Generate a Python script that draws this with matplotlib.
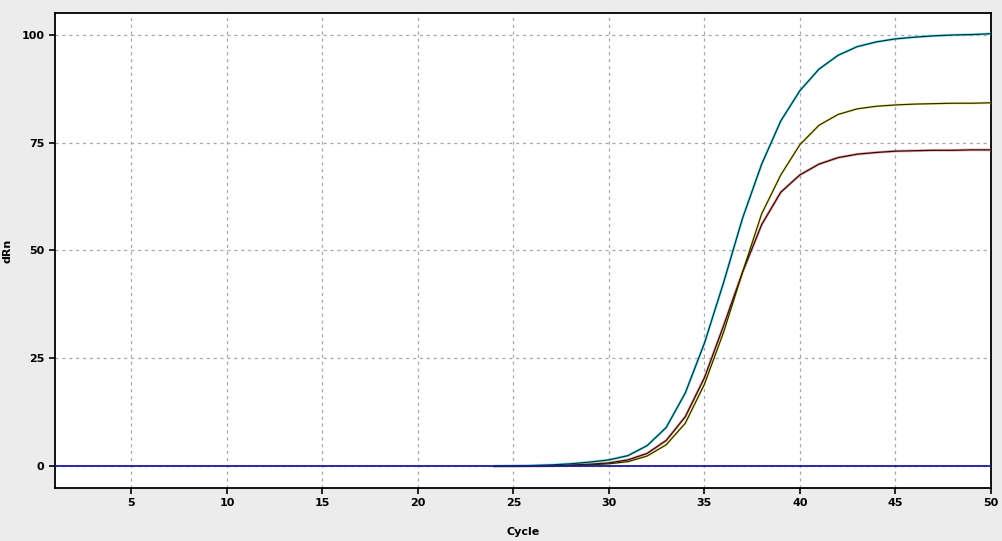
import numpy as np
import matplotlib.pyplot as plt

# amplification curves (dRn per cycle)
cycles = list(range(24, 51))
cyan_rn = [0.05, 0.1, 0.2, 0.35, 0.6, 1.0, 1.5, 2.5, 4.8, 9.0, 17.0, 28.5, 42.5, 57.5, 70.0, 80.0,
           87.0, 92.0, 95.2, 97.2, 98.3, 99.0, 99.4, 99.7, 99.9, 100.0, 100.2]
yellow_rn = [0.0, 0.02, 0.05, 0.1, 0.2, 0.35, 0.6, 1.1, 2.4, 5.0, 10.0, 19.0, 31.0, 45.0, 58.5, 67.5,
             74.5, 79.0, 81.5, 82.8, 83.4, 83.7, 83.9, 84.0, 84.1, 84.1, 84.2]
red_rn = [0.0, 0.03, 0.08, 0.15, 0.3, 0.5, 0.8, 1.5, 3.0, 6.0, 11.5, 20.5, 32.5, 45.0, 56.0, 63.5,
          67.5, 70.0, 71.5, 72.3, 72.7, 73.0, 73.1, 73.2, 73.2, 73.3, 73.3]
threshold = 0.0

x_ticks = [5, 10, 15, 20, 25, 30, 35, 40, 45, 50]
y_ticks = [0, 25, 50, 75, 100]

fig = plt.figure(figsize=(10.02, 5.41), dpi=100)
fig.patch.set_facecolor('#ececec')
ax = fig.add_axes([0.0549, 0.098, 0.934, 0.878])
ax.set_facecolor('white')

# coloured halo under a thin dark line
for vals, halo, core in [(red_rn, '#e87878', '#2a0a0a'),
                         (yellow_rn, '#f4ea60', '#2a2a00'),
                         (cyan_rn, '#40e0f0', '#00303a')]:
    ax.plot(cycles, vals, color=halo, lw=2.0, alpha=0.6, zorder=3)
    ax.plot(cycles, vals, color=core, lw=0.9, zorder=4)

ax.axhline(threshold, color='#1a1aa0', lw=1.3, zorder=5)

ax.set_xlim(1, 50)
ax.set_ylim(-5, 105)
ax.set_xticks(x_ticks)
ax.set_yticks(y_ticks)
ax.grid(True, color='#a8a8a8', linestyle=(0, (2.5, 3)), lw=0.9)
ax.tick_params(direction='out', length=4, width=1.2, labelsize=8)
for lab in ax.get_xticklabels() + ax.get_yticklabels():
    lab.set_fontweight('bold')
for s in ax.spines.values():
    s.set_linewidth(1.3)

ax.set_xlabel('Cycle', fontsize=8, fontweight='bold')
ax.set_ylabel('dRn', fontsize=8, fontweight='bold')
ax.xaxis.set_label_coords(0.5, -0.082)
ax.yaxis.set_label_coords(-0.045, 0.5)

fig.savefig('out.png', dpi=100, facecolor=fig.get_facecolor())
